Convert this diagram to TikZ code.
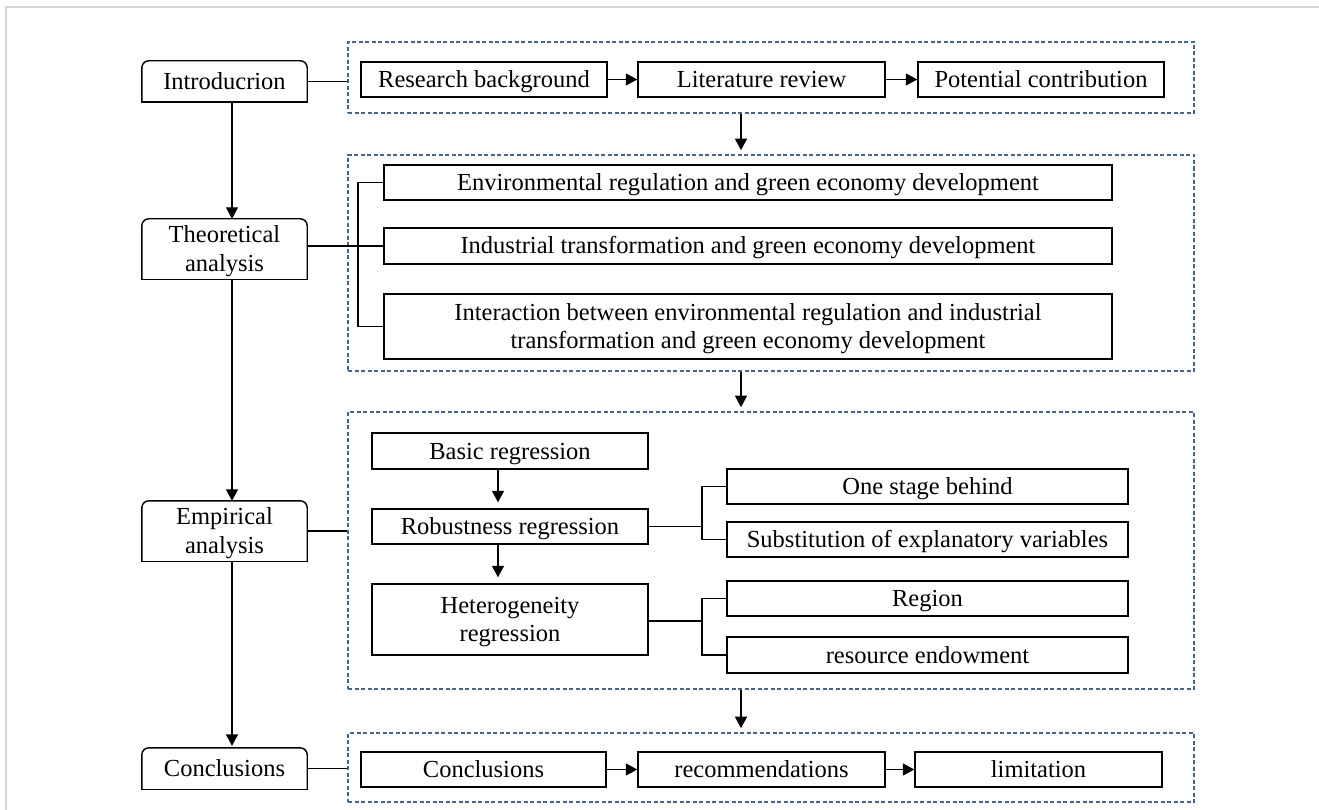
\documentclass[tikz,border=0pt]{standalone}
\usepackage{fontspec}
\setmainfont{Liberation Serif}
\usetikzlibrary{arrows.meta}
\definecolor{dashblue}{RGB}{70,100,140}
\definecolor{framegray}{RGB}{212,212,212}
\newcommand{\txtsize}{\fontsize{24.5}{28.5}\selectfont}
\tikzset{
  tbox/.style={draw, line width=1.4pt, inner sep=0pt, align=center, font=\txtsize, text height=16pt, text depth=0pt},
  twoline/.style={text height=44.5pt, text depth=0pt},
  lbox/.style={inner sep=0pt, align=center, font=\txtsize, minimum width=165pt, text height=16pt, text depth=0pt},
  lb/.style={line width=1.4pt, rounded corners=7pt, line cap=rect},
  dbox/.style={draw=dashblue, line width=1.6pt, dash pattern=on 4pt off 2.5pt, inner sep=0pt, minimum width=846pt},
  conn/.style={line width=1.3pt},
  arr/.style={line width=1.3pt, -{Triangle[length=11.5pt,width=12pt]}},
}
\begin{document}
\begin{tikzpicture}[x=1pt,y=-1pt]
\useasboundingbox (0,0) rectangle (1319,810);
\fill[white] (0,0) rectangle (1319,810);
% outer frame (partly visible)
\coordinate (f1) at (6,810);
\coordinate (f2) at (6,7);
\coordinate (f3) at (1319,7);
\draw[framegray, line width=1.5pt] (f1) -- (f2) -- (f3);

% dashed groups
\node[dbox, minimum height=71pt] (D1) at (771,77.5) {};
\node[dbox, minimum height=216pt] (D2) at (771,263) {};
\node[dbox, minimum height=277pt] (D3) at (771,550.5) {};
\node[dbox, minimum height=69pt] (D4) at (771,767.5) {};

% left column
\node[lbox, minimum height=41pt] (intro) at (224.5,81.5) {Introducrion};
\node[lbox, twoline, minimum height=60pt] (theo) at (224.5,249) {Theoretical\\analysis};
\node[lbox, twoline, minimum height=60pt] (emp) at (224.5,531) {Empirical\\analysis};
\node[lbox, minimum height=41pt] (concl) at (224.5,768.5) {Conclusions};
\foreach \n in {intro,theo,emp,concl}{
  \draw[lb] (\n.south west) -- (\n.north west) -- (\n.north east) -- (\n.south east);
  \draw[line width=1.4pt, line cap=rect] (\n.south west) -- (\n.south east);
}

% top row
\node[tbox, minimum width=246pt, minimum height=35pt] (rb) at (484,79.5) {Research background};
\node[tbox, minimum width=247pt, minimum height=35pt] (lr) at (761.5,79.5) {Literature review};
\node[tbox, minimum width=246pt, minimum height=35pt] (pc) at (1041,79.5) {Potential contribution};

% theoretical
\node[tbox, minimum width=728pt, minimum height=35pt] (env) at (748,182.5) {Environmental regulation and green economy development};
\node[tbox, minimum width=728pt, minimum height=36pt] (ind) at (748,246) {Industrial transformation and green economy development};
\node[tbox, twoline, minimum width=728pt, minimum height=65pt] (inter) at (748,326.5) {Interaction between environmental regulation and industrial\\transformation and green economy development};

% empirical
\node[tbox, minimum width=276pt, minimum height=36pt] (basic) at (510,451) {Basic regression};
\node[tbox, minimum width=276pt, minimum height=35pt] (rob) at (510,526.5) {Robustness regression};
\node[tbox, twoline, minimum width=276pt, minimum height=71pt] (het) at (510,619.5) {Heterogeneity\\regression};
\node[tbox, minimum width=401pt, minimum height=35pt] (one) at (927.5,486.5) {One stage behind};
\node[tbox, minimum width=401pt, minimum height=35pt] (sub) at (927.5,539.5) {Substitution of explanatory variables};
\node[tbox, minimum width=401pt, minimum height=35pt] (reg) at (927.5,598.5) {Region};
\node[tbox, minimum width=401pt, minimum height=36pt] (res) at (927.5,655) {resource endowment};

% bottom row
\node[tbox, minimum width=245pt, minimum height=35pt] (c1) at (483.5,769.5) {Conclusions};
\node[tbox, minimum width=247pt, minimum height=35pt] (rec) at (761.5,769.5) {recommendations};
\node[tbox, minimum width=247pt, minimum height=35pt] (lim) at (1038.5,769.5) {limitation};

% helper coordinates
\coordinate (xa) at (232,0);
\coordinate (xd) at (741,0);
\coordinate (xe) at (498,0);
\coordinate (bT) at (358,246);
\coordinate (bR) at (702,526.5);
\coordinate (bH) at (702,621);

% left column arrows
\draw[arr] (intro.south -| xa) -- (theo.north -| xa);
\draw[arr] (theo.south -| xa) -- (emp.north -| xa);
\draw[arr, shorten >=2pt] (emp.south -| xa) -- (concl.north -| xa);

% left to groups
\draw[conn] (intro.east) -- (intro.east -| D1.west);
\draw[conn] (ind.west -| theo.east) -- (ind.west);
\draw[conn] (emp.east) -- (emp.east -| D3.west);
\draw[conn] (concl.east) -- (concl.east -| D4.west);

% between groups
\draw[arr, shorten >=4pt] (D1.south -| xd) -- (D2.north -| xd);
\draw[arr, shorten >=4pt] (D2.south -| xd) -- (D3.north -| xd);
\draw[arr, shorten >=4pt] (D3.south -| xd) -- (D4.north -| xd);

% rows
\draw[arr] (rb) -- (lr);
\draw[arr] (lr) -- (pc);
\draw[arr] (c1) -- (rec);
\draw[arr] (rec) -- (lim);

% theoretical bracket
\draw[conn] (env.west) -| (bT) |- (inter.west);

% empirical
\draw[arr, shorten >=6pt] (basic.south -| xe) -- (rob.north -| xe);
\draw[arr, shorten >=6pt] (rob.south -| xe) -- (het.north -| xe);
\draw[conn] (rob.east) -- (bR);
\draw[conn] (one.west) -| (bR) |- (sub.west);
\draw[conn] (het.east |- bH) -- (bH);
\draw[conn] (reg.west) -| (bH) |- (res.west);
\end{tikzpicture}
\end{document}
